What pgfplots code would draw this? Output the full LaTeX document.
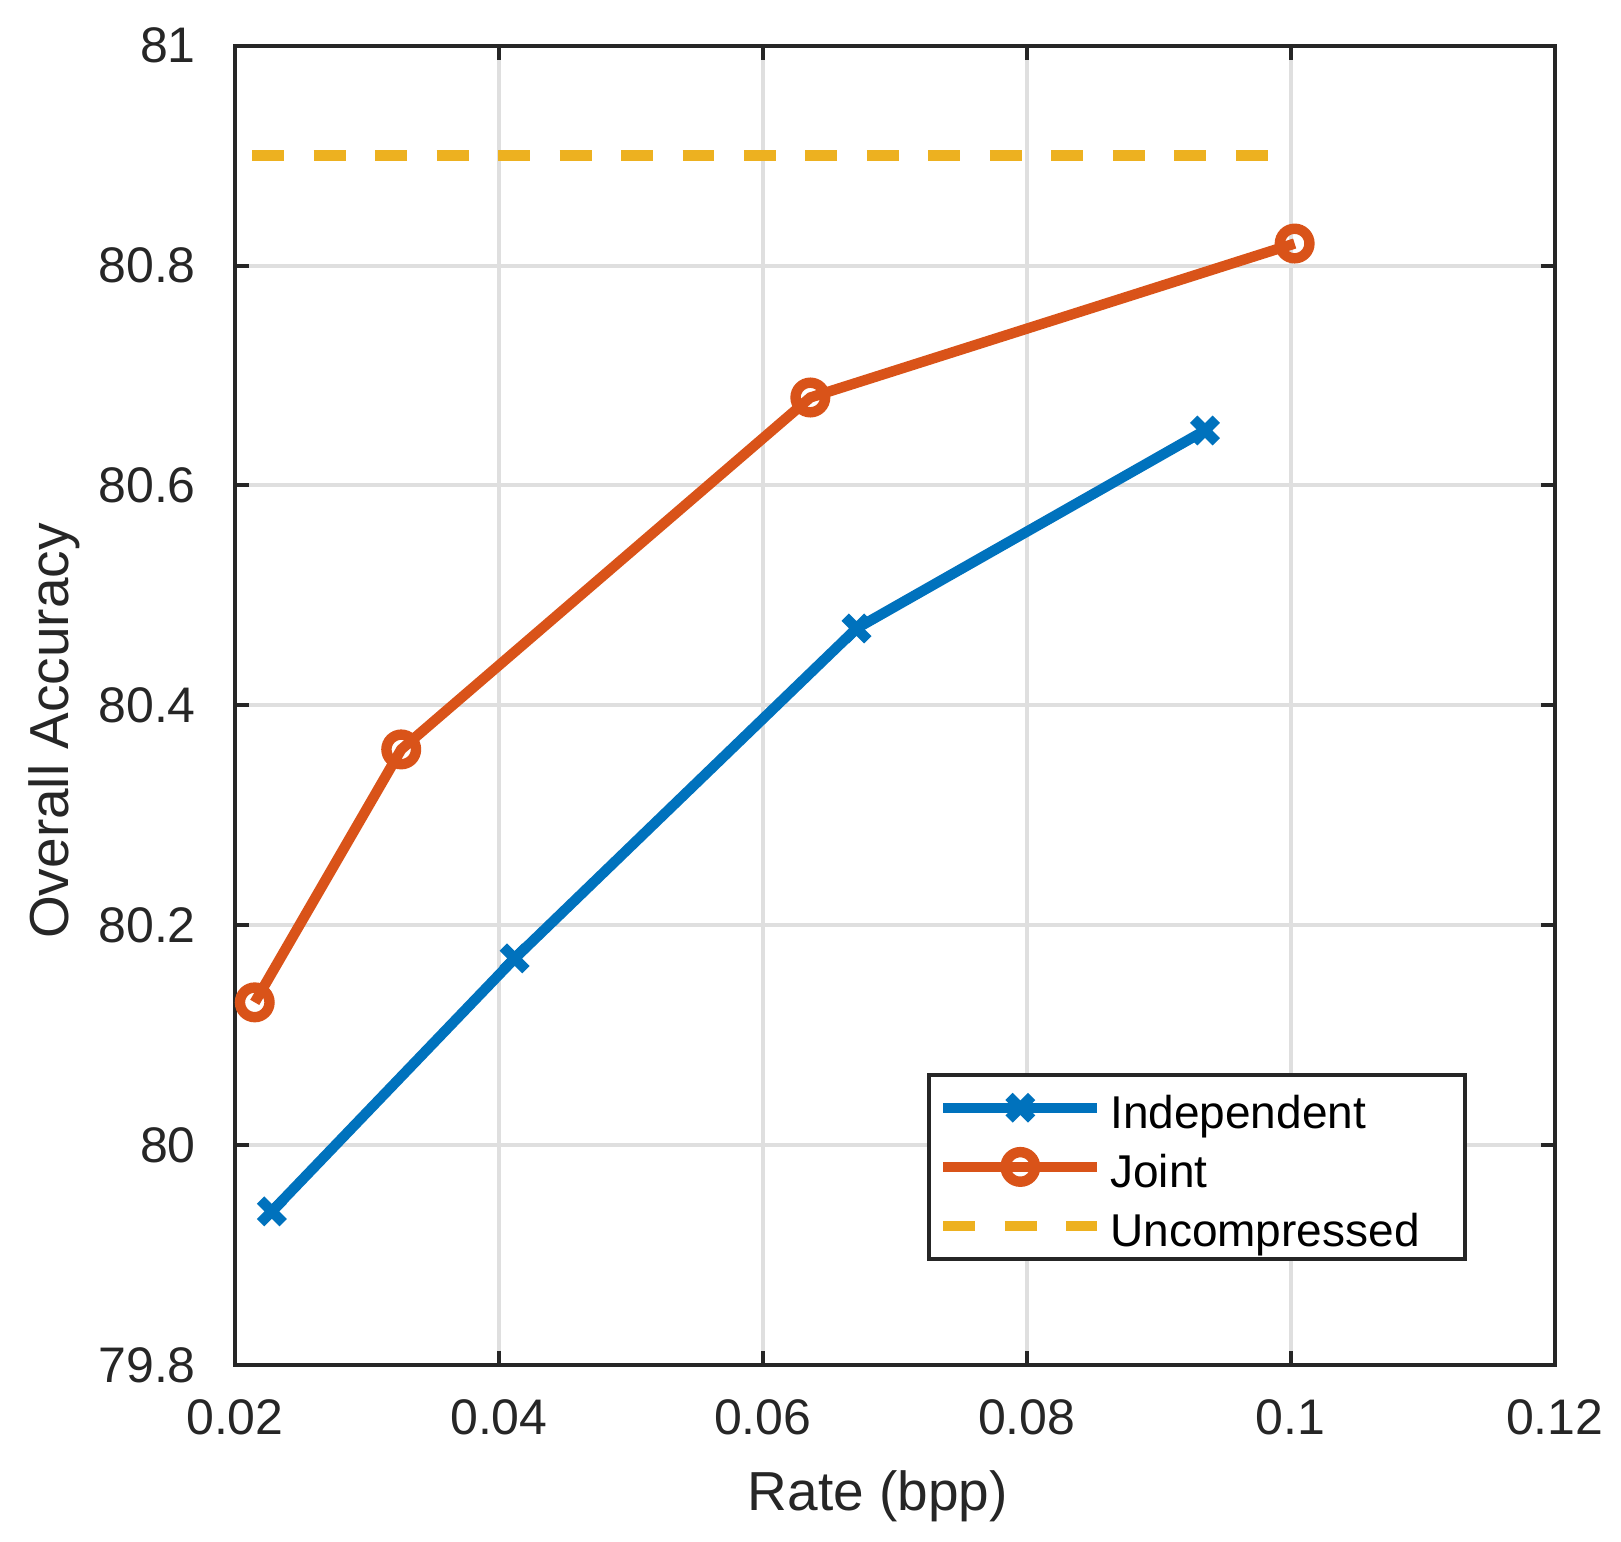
\documentclass[border=0pt]{standalone}
\usepackage{fontspec}
\setmainfont{Liberation Sans}
\usepackage{pgfplots}
\pgfplotsset{compat=1.18}
\definecolor{mblue}{RGB}{0,114,189}
\definecolor{morange}{RGB}{217,83,25}
\definecolor{myellow}{RGB}{237,177,32}
\definecolor{axcol}{RGB}{38,38,38}
\definecolor{gridcol}{RGB}{223,223,223}
\begin{document}
\begin{tikzpicture}
\begin{axis}[
 scale only axis, width=330pt, height=330pt,
 xmin=0.02, xmax=0.12, ymin=79.8, ymax=81,
 xtick={0.02,0.04,0.06,0.08,0.1,0.12},
 xticklabels={0.02,0.04,0.06,0.08,0.1,0.12},
 ytick={79.8,80,80.2,80.4,80.6,80.8,81},
 yticklabels={79.8,80,80.2,80.4,80.6,80.8,81},
 scaled ticks=false,
 tick align=inside, xtick pos=both, ytick pos=both,
 major tick length=3.5pt,
 every tick/.style={axcol, line width=1pt},
 axis line style={axcol, line width=1pt},
 grid=major, grid style={gridcol, line width=1pt},
 ticklabel style={font=\fontsize{12.5}{14}\selectfont, text=axcol},
 xticklabel style={inner sep=0pt, anchor=north, yshift=-8.3pt},
 yticklabel style={inner sep=0pt, anchor=east, xshift=-9.6pt},
 xlabel={Rate (bpp)}, ylabel={Overall Accuracy},
 label style={font=\fontsize{13.75}{16}\selectfont, text=axcol},
 xlabel style={at={(axis description cs:0.48712,-0.11)}, anchor=base},
 ylabel style={at={(axis description cs:-0.12576,0.4806)}, anchor=base},
 clip=false,
 legend image code/.code={\draw[mark repeat=2,mark phase=2,#1] plot coordinates {(0pt,0pt) (19.25pt,0pt) (38.5pt,0pt)};},
 legend style={at={(rel axis cs:1,0)}, anchor=south east, xshift=-22pt, yshift=26.2pt, draw=axcol, line width=0.8pt, inner xsep=2.3pt, inner ysep=1.5pt, row sep=1.4pt, column sep=1.95pt, nodes={inner sep=0pt}, font=\fontsize{11.5}{13}\selectfont},
 legend cell align=left,
]
\addplot[mblue, line width=2.6pt, mark=x, mark size=4pt, mark options={solid}] coordinates {(0.0228,79.94) (0.0412,80.17) (0.0671,80.47) (0.0935,80.65)};
\addlegendentry{\rule[-3.1pt]{0pt}{15pt}\makebox[86.4pt][l]{Independent}}
\addplot[morange, line width=2.6pt, mark=o, mark size=3.7pt, mark options={solid}] coordinates {(0.0215,80.13) (0.0326,80.36) (0.0636,80.68) (0.1003,80.82)};
\addlegendentry{\rule[-3.1pt]{0pt}{15pt}\makebox[86.4pt][l]{Joint}}
\addplot[myellow, line width=2.6pt, dash pattern=on 8pt off 7.375pt] coordinates {(0.0213,80.9) (0.1003,80.9)};
\addlegendentry{\rule[-3.1pt]{0pt}{15pt}\makebox[86.4pt][l]{Uncompressed}}
\end{axis}
\pgfresetboundingbox
\path[use as bounding box] ([xshift=-58.75pt,yshift=-44.1pt]current axis.south west) rectangle ([xshift=16.6pt,yshift=11.4pt]current axis.north east);
\end{tikzpicture}
\end{document}
